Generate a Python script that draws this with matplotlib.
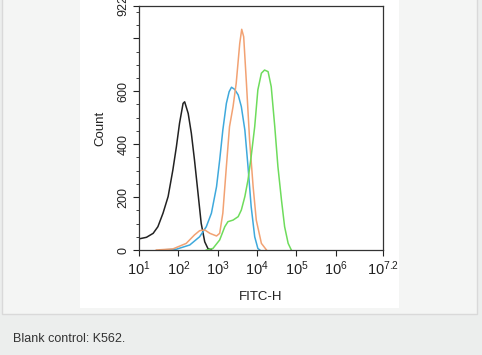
import numpy as np
import matplotlib.pyplot as plt
from matplotlib.patches import Rectangle

plt.rcParams['font.family'] = ['Liberation Sans', 'DejaVu Sans']
plt.rcParams['mathtext.default'] = 'regular'

W, H = 482, 355

# histogram traces, x in log10(FITC-H), y in counts
black_log = [1.0, 1.19, 1.36, 1.48, 1.61, 1.74, 1.86, 1.95, 2.03, 2.12, 2.16, 2.25, 2.33, 2.41, 2.50, 2.58, 2.67, 2.75, 2.84]
black_cnt = [42, 48, 63, 88, 139, 202, 302, 390, 479, 554, 560, 516, 441, 340, 214, 101, 31, 6, 0]

blue_log = [1.53, 1.95, 2.29, 2.54, 2.71, 2.84, 2.97, 3.05, 3.13, 3.22, 3.29, 3.35, 3.43, 3.52, 3.60, 3.69, 3.77, 3.85, 3.94, 4.02, 4.07]
blue_cnt = [0, 3, 19, 50, 88, 139, 239, 340, 453, 554, 598, 615, 607, 586, 542, 453, 315, 164, 50, 6, 0]

orange_log = [1.44, 1.86, 2.20, 2.41, 2.54, 2.67, 2.80, 2.97, 3.05, 3.13, 3.22, 3.30, 3.39, 3.47, 3.56, 3.61, 3.66, 3.73, 3.81, 3.90, 3.98, 4.11, 4.24]
orange_cnt = [0, 4, 25, 57, 73, 76, 63, 53, 63, 139, 315, 466, 542, 630, 781, 834, 806, 630, 416, 239, 113, 25, 0]

green_log = [2.71, 2.88, 3.05, 3.18, 3.26, 3.39, 3.52, 3.60, 3.69, 3.77, 3.85, 3.94, 4.02, 4.11, 4.19, 4.28, 4.36, 4.45, 4.53, 4.62, 4.70, 4.79, 4.87]
green_cnt = [0, 6, 38, 88, 107, 113, 126, 151, 202, 265, 353, 466, 605, 668, 680, 674, 617, 466, 315, 189, 88, 25, 0]

y_ticks = [0, 200, 400, 600, 800, 922]
y_labels = ['0', '200', '400', '600', '', '922']
x_decades = [1, 2, 3, 4, 5, 6, 7.2]
x_labels = ['$10^{1}$', '$10^{2}$', '$10^{3}$', '$10^{4}$', '$10^{5}$', '$10^{6}$', '$10^{7.2}$']

fig = plt.figure(figsize=(W / 100, H / 100), dpi=100, facecolor='#eceeed')


def box(x0, y0, x1, y1, **kw):
    # pixel rectangle (top-left origin) into figure coords, kept behind the axes
    fig.patches.append(Rectangle((x0 / W, 1 - y1 / H), (x1 - x0) / W, (y1 - y0) / H,
                                 transform=fig.transFigure, figure=fig, zorder=-10, **kw))


# page frame and white image panel
box(2, -2, 477, 314, facecolor='#f4f5f4', edgecolor='#d9d9d9', linewidth=1)
box(80, 0, 399, 308, facecolor='white', edgecolor='none')

ax = fig.add_axes([139 / W, 1 - 250 / H, (383 - 139) / W, (250 - 6) / H])
ax.set_zorder(5)
ax.set_facecolor('white')

ax.plot(10 ** np.array(black_log), black_cnt, color='#222222', lw=1.1)
ax.plot(10 ** np.array(blue_log), blue_cnt, color='#3fa9dc', lw=1.1)
ax.plot(10 ** np.array(orange_log), orange_cnt, color='#f2a273', lw=1.1)
ax.plot(10 ** np.array(green_log), green_cnt, color='#6edc5c', lw=1.1)

ax.set_xscale('log')
ax.set_xlim(10, 10 ** 7.2)
ax.set_ylim(0, 922)
ax.set_xticks([10 ** d for d in x_decades])
ax.set_xticklabels(x_labels, fontsize=10.5, color='#222222')
ax.set_yticks(y_ticks)
ax.set_yticklabels(y_labels, fontsize=9, rotation=90, va='center', color='#222222')
ax.set_yticks(np.arange(0, 922, 50), minor=True)
ax.tick_params(axis='both', which='major', length=4, width=0.8, color='#222222')
ax.tick_params(axis='both', which='minor', length=2, width=0.6, color='#222222')
ax.tick_params(axis='x', pad=3)
ax.tick_params(axis='y', pad=3)
for s in ax.spines.values():
    s.set_color('#333333')
    s.set_linewidth(0.9)

ax.set_xlabel('FITC-H', fontsize=9.5, color='#222222', labelpad=9)
ax.set_ylabel('Count', fontsize=9.5, color='#222222', labelpad=8)

fig.text(13 / W, 1 - 339 / H, 'Blank control: K562.', fontsize=9, color='#333333', va='center', ha='left')

fig.savefig('out.png', dpi=100, facecolor=fig.get_facecolor())
